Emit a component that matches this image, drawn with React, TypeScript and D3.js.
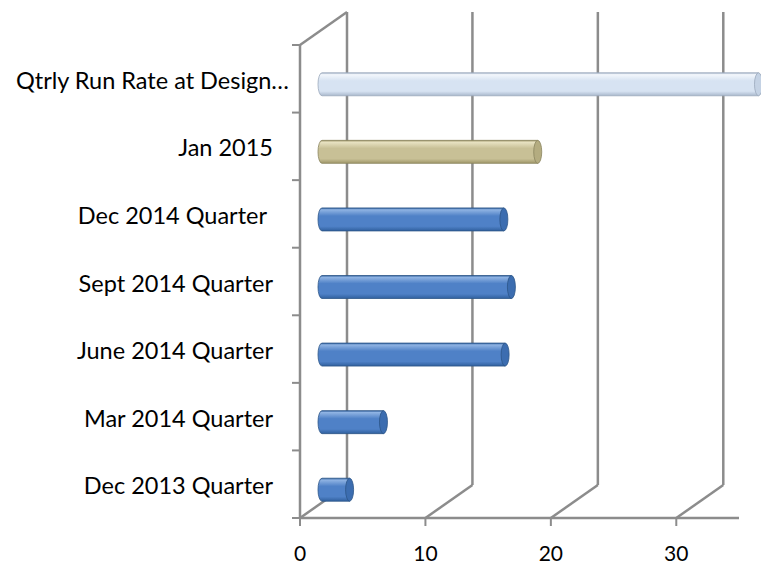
import React from "react";
import * as d3 from "d3";

// categories top to bottom, as they appear
const categories = [
  "Qtrly Run Rate at Design…",
  "Jan 2015",
  "Dec 2014 Quarter",
  "Sept 2014 Quarter",
  "June 2014 Quarter",
  "Mar 2014 Quarter",
  "Dec 2013 Quarter",
];
const values = [34.8, 17.2, 14.5, 15.1, 14.6, 4.9, 2.2];
const barKind = ["light", "tan", "blue", "blue", "blue", "blue", "blue"];
const xTicks = [0, 10, 20, 30];

const W = 761;
const H = 567;
const gridColor = "#8c8c8c";
const font = "Lato, 'Open Sans', sans-serif";

// 3d depth of the plot box
const depthX = 47;
const depthY = -33;

const palettes: Record<string, { top: string; mid: string; bot: string; cap: string; edge: string }> = {
  blue: { top: "#8fb3e3", mid: "#4f81c7", bot: "#30609e", cap: "#3c6db0", edge: "#2c5588" },
  tan: { top: "#e8e2c2", mid: "#c8c096", bot: "#9e9668", cap: "#b4ac80", edge: "#8a845e" },
  light: { top: "#f3f7fc", mid: "#d7e3f2", bot: "#a9b8cc", cap: "#c4d2e4", edge: "#9aa8bb" },
};

export default function App() {
  const x = d3.scaleLinear().domain([0, 35]).range([300, 739]);
  const y = d3.scaleBand().domain(categories).range([45, 518]).padding(0);
  const bottom = 518;
  const top = 45;
  const barH = 23;
  const halfDX = 22;
  const barShift = 5.5;

  const bandEdges = d3.range(categories.length + 1).map((i) => top + i * y.step());

  return (
    <svg width={W} height={H} style={{ position: "absolute", left: 0, top: 0 }}>
      <defs>
        {Object.entries(palettes).map(([k, p]) => (
          <linearGradient key={k} id={`g-${k}`} x1="0" y1="0" x2="0" y2="1">
            <stop offset="0" stopColor={p.bot} />
            <stop offset="0.08" stopColor={p.top} />
            <stop offset="0.35" stopColor={p.mid} />
            <stop offset="0.8" stopColor={p.mid} />
            <stop offset="1" stopColor={p.bot} />
          </linearGradient>
        ))}
      </defs>
      <rect width={W} height={H} fill="#fff" />

      {/* back gridlines and floor diagonals */}
      {xTicks.map((t) => (
        <g key={t} stroke={gridColor} strokeWidth={2.5} fill="none">
          <line x1={x(t) + depthX} y1={bottom + depthY} x2={x(t) + depthX} y2={top + depthY} />
          <line x1={x(t)} y1={bottom} x2={x(t) + depthX} y2={bottom + depthY} />
        </g>
      ))}
      <line x1={x(0)} y1={top} x2={x(0) + depthX} y2={top + depthY} stroke={gridColor} strokeWidth={2.5} />

      {/* bars as cylinders */}
      {categories.map((c, i) => {
        const p = palettes[barKind[i]];
        const cy = (y(c) as number) + y.bandwidth() / 2 + barShift;
        const x0 = x(0) + halfDX;
        const x1 = x(values[i]) + halfDX;
        const rx = 4;
        const y0 = cy - barH / 2;
        return (
          <g key={c}>
            <path
              d={`M${x1},${y0} L${x0},${y0} A${rx},${barH / 2} 0 0 0 ${x0},${y0 + barH} L${x1},${y0 + barH} Z`}
              fill={`url(#g-${barKind[i]})`}
              stroke={p.edge}
              strokeWidth={0.8}
            />
            <ellipse cx={x1} cy={cy} rx={rx} ry={barH / 2} fill={p.cap} stroke={p.edge} strokeWidth={0.8} />
          </g>
        );
      })}

      {/* front axes */}
      <line x1={x(0)} y1={top} x2={x(0)} y2={bottom} stroke={gridColor} strokeWidth={2.5} />
      <line x1={x(0)} y1={bottom} x2={x(35)} y2={bottom} stroke={gridColor} strokeWidth={2.5} />
      {bandEdges.map((e, i) => (
        <line key={i} x1={x(0) - 8} y1={e} x2={x(0)} y2={e} stroke={gridColor} strokeWidth={2} />
      ))}
      {xTicks.map((t) => (
        <g key={t}>
          <line x1={x(t)} y1={bottom} x2={x(t)} y2={bottom + 8} stroke={gridColor} strokeWidth={2} />
          <text x={x(t)} y={561} textAnchor="middle" fontFamily={font} fontSize={21} fill="#000">
            {t}
          </text>
        </g>
      ))}

      {/* category labels */}
      {categories.map((c, i) => {
        const base = (y(c) as number) + y.bandwidth() / 2 + 10;
        const endX = i === 0 ? 289 : i === 2 ? 267 : 273;
        return (
          <text key={c} x={endX} y={base} textAnchor="end" fontFamily={font} fontSize={23.5} fill="#000">
            {c}
          </text>
        );
      })}
    </svg>
  );
}
